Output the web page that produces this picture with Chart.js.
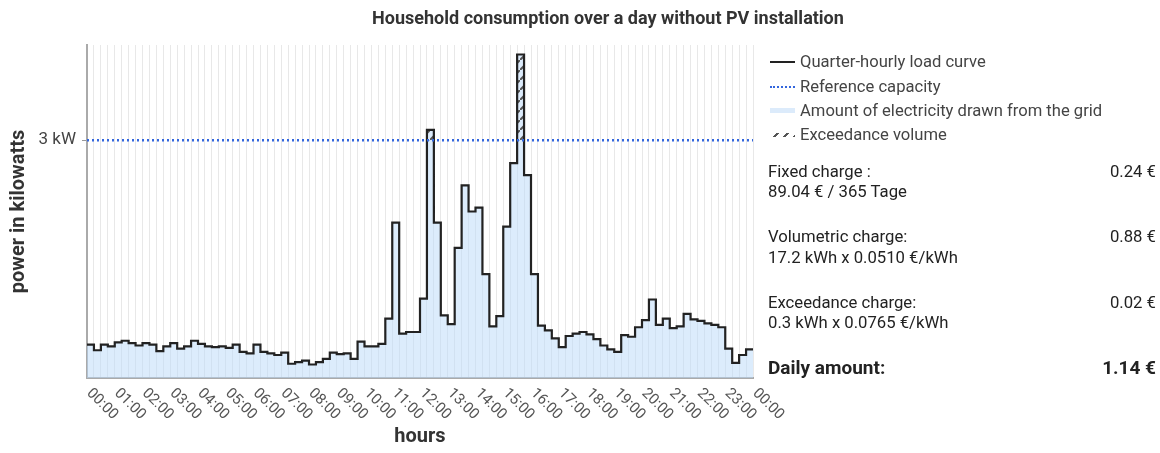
<!DOCTYPE html>
<html>
<head>
<meta charset="utf-8">
<script src="https://cdn.jsdelivr.net/npm/chart.js@4.4.1/dist/chart.umd.min.js"></script>
<style>
  body { margin: 0; background: #fff; font-family: Roboto, sans-serif; }
  #wrap { position: relative; width: 1160px; height: 453px; overflow: hidden; }
  #chart { position: absolute; left: 0; top: 0; }
  .title { position: absolute; left: 608px; top: 7px; transform: translateX(-50%); white-space: nowrap;
           font-weight: bold; font-size: 18px; color: #333; }
  .legend { position: absolute; left: 770px; top: 50px; font-size: 16.6px; color: #444; }
  .legend div { height: 24.4px; line-height: 24px; display: flex; align-items: center; white-space: nowrap; }
  .legend i { display: inline-block; width: 25px; margin-right: 5px; }
  .panel { position: absolute; left: 768px; width: 388px; top: 161.5px; font-size: 16.7px; color: #222; }
  .panel .row { display: flex; justify-content: space-between; line-height: 20.5px; height: 20.5px; }
  .panel .grp { margin-bottom: 24.5px; }
  .panel .total { font-weight: bold; font-size: 19px; }
</style>
</head>
<body>
<div id="wrap">
  <canvas id="chart" width="1160" height="453"></canvas>
  <div class="title">Household consumption over a day without PV installation</div>
  <div class="legend" id="legend"></div>
  <div class="panel">
    <div class="grp">
      <div class="row"><span>Fixed charge :</span><span>0.24 €</span></div>
      <div class="row"><span>89.04 € / 365 Tage</span></div>
    </div>
    <div class="grp">
      <div class="row"><span>Volumetric charge:</span><span>0.88 €</span></div>
      <div class="row"><span>17.2 kWh x 0.0510 €/kWh</span></div>
    </div>
    <div class="grp">
      <div class="row"><span>Exceedance charge:</span><span>0.02 €</span></div>
      <div class="row"><span>0.3 kWh x 0.0765 €/kWh</span></div>
    </div>
    <div class="row total"><span>Daily amount:</span><span>1.14 €</span></div>
  </div>
</div>
<script>
// hour labels on the x axis (one per 4 quarter hours)
const hourLabels = ['00:00','01:00','02:00','03:00','04:00','05:00','06:00','07:00','08:00','09:00','10:00','11:00',
  '12:00','13:00','14:00','15:00','16:00','17:00','18:00','19:00','20:00','21:00','22:00','23:00','00:00']

// quarter-hourly load in kW, 96 values (00:00 .. 23:45)
const quarterLoad = [
  0.42, 0.35, 0.42, 0.40, 0.45, 0.47, 0.44, 0.41, 0.44, 0.42, 0.34, 0.40,
  0.44, 0.37, 0.40, 0.47, 0.43, 0.40, 0.39, 0.40, 0.38, 0.42, 0.33, 0.31,
  0.42, 0.33, 0.31, 0.29, 0.32, 0.18, 0.20, 0.22, 0.17, 0.20, 0.24, 0.32,
  0.30, 0.31, 0.24, 0.46, 0.40, 0.40, 0.43, 0.75, 1.96, 0.56, 0.58, 0.58,
  1.00, 3.13, 1.96, 0.79, 0.68, 1.64, 2.43, 2.10, 2.15, 1.31, 0.65, 0.78,
  1.91, 2.71, 4.08, 2.56, 1.31, 0.66, 0.60, 0.50, 0.39, 0.53, 0.56, 0.58,
  0.55, 0.49, 0.41, 0.36, 0.33, 0.54, 0.52, 0.64, 0.73, 0.99, 0.67, 0.75,
  0.63, 0.65, 0.81, 0.74, 0.72, 0.69, 0.67, 0.64, 0.37, 0.19, 0.29, 0.36
]

const referenceCapacity = 3
const yTickValues = [3]

const seriesNames = ['Quarter-hourly load curve', 'Reference capacity', 'Amount of electricity drawn from the grid', 'Exceedance volume']

// stepped points: each value holds for its quarter, last one closes at 96
function steps(values) {
  const pts = values.map((v, i) => ({x: i, y: v}))
  pts.push({x: values.length, y: values[values.length - 1]})
  return pts
}

function hatchPattern() {
  const c = document.createElement('canvas')
  c.width = 10; c.height = 10
  const g = c.getContext('2d')
  g.fillStyle = '#dcebfb'
  g.fillRect(0, 0, 10, 10)
  g.strokeStyle = '#555'
  g.lineWidth = 2
  g.beginPath()
  g.moveTo(-2, 12); g.lineTo(12, -2)
  g.stroke()
  return g.createPattern(c, 'repeat')
}

const hourTickLabels = {
  id: 'hourTickLabels',
  afterDraw(chart) {
    const ctx = chart.ctx
    const xs = chart.scales.x
    ctx.save()
    ctx.font = '15px Roboto'
    ctx.fillStyle = '#555'
    ctx.textAlign = 'left'
    ctx.textBaseline = 'middle'
    hourLabels.forEach((lab, i) => {
      const x = xs.getPixelForValue(i * 4)
      ctx.save()
      ctx.translate(x + 2, xs.top + 13)
      ctx.rotate(Math.PI / 4)
      ctx.fillText(lab, 0, 0)
      ctx.restore()
    })
    ctx.restore()
  }
}

const legend = document.querySelector('#legend')
const samples = [
  'height:2px;background:#222',
  'height:0;border-top:2px dotted #3366dd',
  'height:5px;background:#dcebfb',
  'height:4px;background:repeating-linear-gradient(-45deg,#555 0 2px,transparent 2px 7px)'
]
seriesNames.forEach((n, i) => {
  legend.innerHTML += '<div><i style="' + samples[i] + '"></i>' + n + '</div>'
})

const data = {
  datasets: [{
    label: seriesNames[1],
    data: steps(quarterLoad.map(() => referenceCapacity)),
    borderColor: '#3366dd',
    borderWidth: 2.5,
    borderDash: [2, 3],
    pointRadius: 0,
    fill: false,
    order: 0
  }, {
    label: seriesNames[0],
    data: steps(quarterLoad),
    stepped: 'before',
    borderColor: '#222',
    borderWidth: 2.2,
    pointRadius: 0,
    fill: false,
    order: 1
  }, {
    label: seriesNames[3],
    data: steps(quarterLoad.map(v => Math.max(v, referenceCapacity))),
    stepped: 'before',
    borderWidth: 0,
    pointRadius: 0,
    backgroundColor: hatchPattern(),
    fill: {value: referenceCapacity},
    order: 2
  }, {
    label: seriesNames[2],
    data: steps(quarterLoad),
    stepped: 'before',
    borderWidth: 0,
    pointRadius: 0,
    backgroundColor: 'rgba(186,218,250,0.5)',
    fill: 'origin',
    order: 3
  }]
}

const config = {
  type: 'line',
  data: data,
  plugins: [hourTickLabels],
  options: {
    responsive: false,
    animation: false,
    devicePixelRatio: 1,
    layout: {padding: {left: 3, top: 45, right: 407, bottom: 0}},
    plugins: {legend: {display: false}, tooltip: {enabled: false}, title: {display: false}},
    scales: {
      x: {
        type: 'linear',
        min: 0,
        max: 96,
        afterBuildTicks: s => { s.ticks = quarterLoad.concat([0]).map((v, i) => ({value: i})) },
        afterFit: s => { s.height = 75 },
        ticks: {display: false},
        grid: {color: '#e8e8e8', drawTicks: false},
        border: {color: '#aaa', width: 2},
        title: {display: true, text: 'hours', font: {family: 'Roboto', size: 20, weight: 'bold'}, color: '#333'}
      },
      y: {
        min: 0,
        max: 4.2,
        afterBuildTicks: s => { s.ticks = yTickValues.map(v => ({value: v})) },
        afterFit: s => { s.width = 84 },
        ticks: {callback: v => v + ' kW', font: {family: 'Roboto', size: 17}, color: '#444', padding: 6},
        grid: {drawOnChartArea: false, drawTicks: true, tickLength: 5, color: '#999'},
        border: {color: '#aaa', width: 2},
        title: {display: true, text: 'power in kilowatts', font: {family: 'Roboto', size: 20, weight: 'bold'}, color: '#333'}
      }
    }
  }
}

new Chart(document.querySelector('#chart'), config)
</script>
</body>
</html>
